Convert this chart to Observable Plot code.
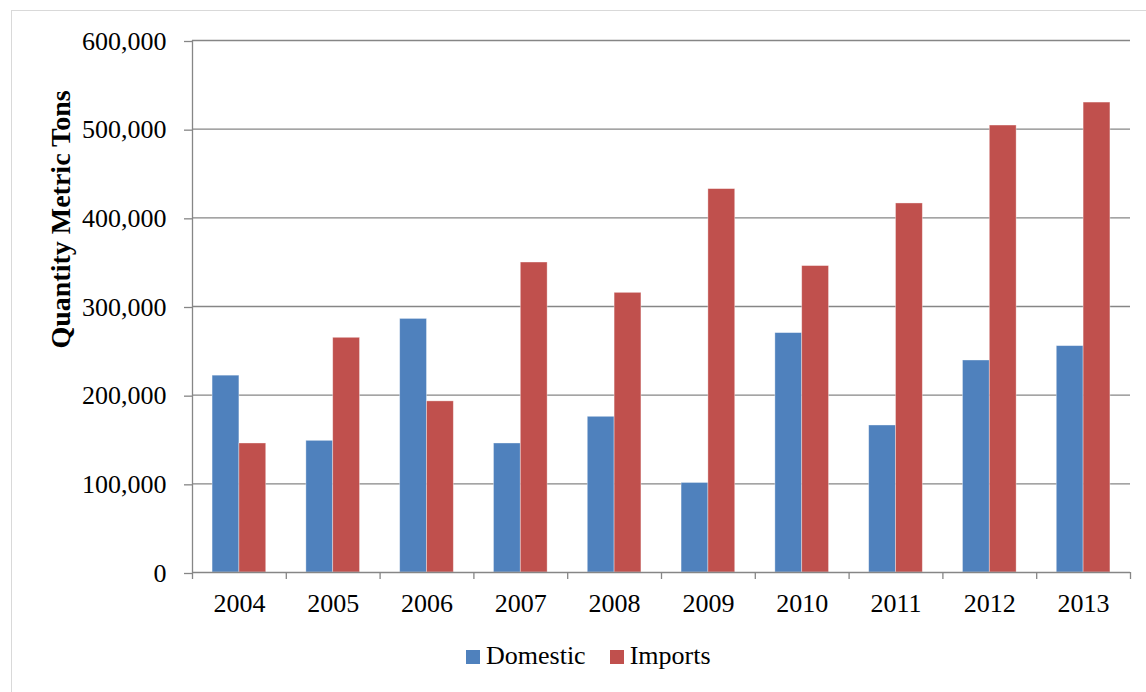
<!DOCTYPE html>
<html>
<head>
<meta charset="utf-8">
<script src="https://cdn.jsdelivr.net/npm/d3@7"></script>
<script src="https://cdn.jsdelivr.net/npm/@observablehq/plot@0.6"></script>
<style>
  html, body { margin: 0; padding: 0; background: #fff; overflow: hidden; }
  #wrap { position: relative; width: 1146px; height: 692px; overflow: hidden; font-family: 'Liberation Serif', 'Times New Roman', serif; }
  #border { position: absolute; left: 11px; top: 10px; width: 1200px; height: 720px; border: 1px solid #d9d9d9; box-sizing: border-box; }
  #chart { position: absolute; left: 0; top: 0; }
  #legend { position: absolute; left: 466px; top: 641px; display: flex; align-items: center; font-size: 26px; color: #000; white-space: nowrap; }
  .item { display: flex; align-items: center; }
  .sw { width: 14px; height: 14px; margin-right: 6px; margin-top: 2px; }
</style>
</head>
<body>
<div id="wrap">
  <div id="border"></div>
  <div id="chart"></div>
  <div id="legend"></div>
</div>
<script>
const years = ["2004", "2005", "2006", "2007", "2008", "2009", "2010", "2011", "2012", "2013"];
const domestic = [222000, 148500, 286000, 145500, 175600, 101000, 270000, 165800, 239100, 255300];
const imports = [145500, 264700, 193000, 349600, 315400, 432400, 345600, 416200, 504100, 530000];
const seriesNames = ["Domestic", "Imports"];
const seriesColors = ["#4F81BD", "#C0504D"];
const yTicks = [0, 100000, 200000, 300000, 400000, 500000, 600000];
const yLabel = "Quantity Metric Tons";

const barW = 0.286; // bar width as fraction of a category step
const data = years.flatMap((yr, i) => [
  {year: yr, i, series: "Domestic", value: domestic[i]},
  {year: yr, i, series: "Imports", value: imports[i]}
]);
const boundaries = d3.range(years.length + 1).map(k => k - 0.5);
const centers = years.map((_, i) => i);
const gray = "#868686";

const chart = Plot.plot({
  width: 1146,
  height: 630,
  marginLeft: 192,
  marginRight: 16,
  marginTop: 40,
  marginBottom: 58,
  style: {fontFamily: "'Liberation Serif', 'Times New Roman', serif", fontSize: "26px", color: "#000", background: "transparent", overflow: "visible"},
  x: {type: "linear", domain: [-0.5, years.length - 0.5]},
  y: {domain: [0, 600000]},
  color: {domain: seriesNames, range: seriesColors},
  marks: [
    Plot.ruleY(yTicks.slice(1), {stroke: gray, strokeWidth: 1.3}),
    Plot.rect(data, {
      x1: d => d.series === "Domestic" ? d.i - barW : d.i,
      x2: d => d.series === "Domestic" ? d.i : d.i + barW,
      y1: 0,
      y2: "value",
      fill: "series",
      stroke: "#fff",
      strokeOpacity: 0.45,
      strokeWidth: 0.8
    }),
    Plot.ruleY([0], {stroke: gray, strokeWidth: 1.3}),
    Plot.ruleX([-0.5], {y1: 0, y2: 600000, stroke: gray, strokeWidth: 1.3}),
    Plot.axisY({ticks: yTicks, tickFormat: d3.format(","), tickSize: 8, tickPadding: 18, stroke: gray, strokeWidth: 1.3, label: null, fontSize: 26, dy: 1}),
    Plot.axisX({ticks: boundaries, tickSize: 7, tickFormat: () => "", stroke: gray, strokeWidth: 1.3, label: null}),
    Plot.axisX({ticks: centers, tickFormat: i => years[i], tickSize: 0, tickPadding: 21, label: null, fontSize: 26}),
    Plot.text([yLabel], {frameAnchor: "top-left", text: d => d, rotate: -90, dx: -142, dy: 179, fontWeight: "bold", fontSize: 28, textAnchor: "middle", fill: "#000"})
  ]
});
document.getElementById("chart").appendChild(chart);

const legend = document.getElementById("legend");
seriesNames.forEach((name, k) => {
  const item = document.createElement("div");
  item.className = "item";
  if (k > 0) item.style.marginLeft = "24px";
  const sw = document.createElement("div");
  sw.className = "sw";
  sw.style.background = seriesColors[k];
  const label = document.createElement("span");
  label.textContent = name;
  item.appendChild(sw);
  item.appendChild(label);
  legend.appendChild(item);
});
</script>
</body>
</html>
